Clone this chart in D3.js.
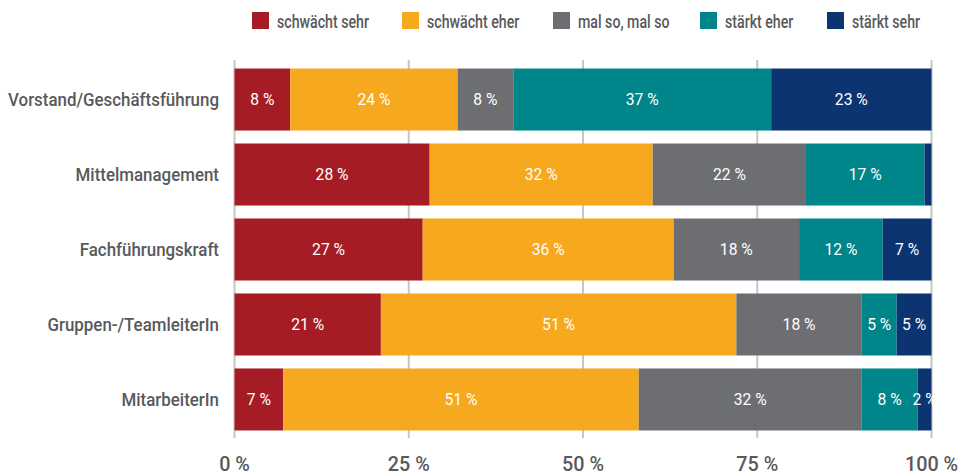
<!DOCTYPE html>
<html>
<head>
<meta charset="utf-8">
<script src="https://cdn.jsdelivr.net/npm/d3@7"></script>
<style>
  html, body { margin: 0; padding: 0; background: #fff; }
  svg { display: block; font-family: Roboto, "Noto Sans", sans-serif; font-weight: 500; }
</style>
</head>
<body>
<svg id="chart" width="960" height="475"></svg>
<script>
// Rollen (von oben nach unten)
const categories = [
  "Vorstand/Geschäftsführung",
  "Mittelmanagement",
  "Fachführungskraft",
  "Gruppen-/TeamleiterIn",
  "MitarbeiterIn"
];

// Antwortkategorien
const seriesNames = ["schwächt sehr", "schwächt eher", "mal so, mal so", "stärkt eher", "stärkt sehr"];
const seriesColors = ["#a51c24", "#f6a81e", "#6d6e71", "#00858a", "#0c3470"];

// Anteile in Prozent, je Rolle
const schwaechtSehr = [8, 28, 27, 21, 7];
const schwaechtEher = [24, 32, 36, 51, 51];
const malSoMalSo    = [8, 22, 18, 18, 32];
const staerktEher   = [37, 17, 12, 5, 8];
const staerktSehr   = [23, 1, 7, 5, 2];

const xTicks = [0, 25, 50, 75, 100];

const seriesValues = [schwaechtSehr, schwaechtEher, malSoMalSo, staerktEher, staerktSehr];

const rows = categories.map((c, i) => {
  const r = { cat: c };
  seriesNames.forEach((s, j) => { r[s] = seriesValues[j][i]; });
  return r;
});

const svg = d3.select("#chart");
const textGrey = "#58595b";

// condensed look: squeeze the regular face horizontally so a sample string gets a given width
function squeezeFor(sample, size, width, weight) {
  const t = svg.append("text").attr("font-size", size).attr("font-weight", weight).text(sample);
  const k = Math.min(1, width / t.node().getComputedTextLength());
  t.remove();
  return (px, py) => `translate(${px},${py}) scale(${k},1)`;
}
const placeCat = squeezeFor(categories[0], 18.7, 211, 500);
const placeLegend = squeezeFor(seriesNames[0], 18, 92, 500);
const placeTick = squeezeFor("25 %", 21, 42, 500);
const placeValue = squeezeFor("28 %", 16.5, 33, 400);

const x = d3.scaleLinear().domain([0, 100]).range([234.5, 931.5]);
const y = d3.scaleBand().domain(categories).range([62, 437])
  .paddingInner(0.173).paddingOuter(0.087);

// vertical gridlines
svg.append("g")
  .selectAll("line")
  .data(xTicks)
  .join("line")
  .attr("x1", d => x(d)).attr("x2", d => x(d))
  .attr("y1", 60).attr("y2", 438)
  .attr("stroke", "#c6c6c6").attr("stroke-width", 2);

// stacked bars
const stack = d3.stack().keys(seriesNames);
const layers = stack(rows);

const layerG = svg.append("g")
  .selectAll("g")
  .data(layers)
  .join("g")
  .attr("fill", (d, i) => seriesColors[i]);

layerG.selectAll("rect")
  .data(d => d)
  .join("rect")
  .attr("x", d => x(d[0]))
  .attr("width", d => x(d[1]) - x(d[0]))
  .attr("y", d => y(d.data.cat))
  .attr("height", y.bandwidth());

// value labels
layerG.selectAll("text")
  .data(d => d.filter(p => p[1] - p[0] >= 2))
  .join("text")
  .attr("transform", d => placeValue(x((d[0] + d[1]) / 2), y(d.data.cat) + y.bandwidth() / 2))
  .attr("dy", "0.36em")
  .attr("text-anchor", "middle")
  .attr("fill", "#fff")
  .attr("font-size", 16.5)
  .attr("font-weight", 400)
  .text(d => (d[1] - d[0]) + " %");

// category labels
svg.append("g")
  .selectAll("text")
  .data(categories)
  .join("text")
  .attr("transform", d => placeCat(219, y(d) + y.bandwidth() / 2))
  .attr("dy", "0.36em")
  .attr("text-anchor", "end")
  .attr("fill", textGrey)
  .attr("font-size", 18.7)
  .text(d => d);

// x axis tick labels
svg.append("g")
  .selectAll("text")
  .data(xTicks)
  .join("text")
  .attr("transform", d => placeTick(x(d), 471))
  .attr("text-anchor", "middle")
  .attr("fill", textGrey)
  .attr("font-size", 21)
  .text(d => d + " %");

// legend
const legendX = [252, 402, 553, 700, 827];
const legend = svg.append("g")
  .selectAll("g")
  .data(seriesNames)
  .join("g")
  .attr("transform", (d, i) => `translate(${legendX[i]},0)`);
legend.append("rect")
  .attr("x", 0).attr("y", 12)
  .attr("width", 17).attr("height", 17)
  .attr("fill", (d, i) => seriesColors[i]);
legend.append("text")
  .attr("transform", placeLegend(25, 28))
  .attr("fill", textGrey)
  .attr("font-size", 18)
  .text(d => d);
</script>
</body>
</html>
